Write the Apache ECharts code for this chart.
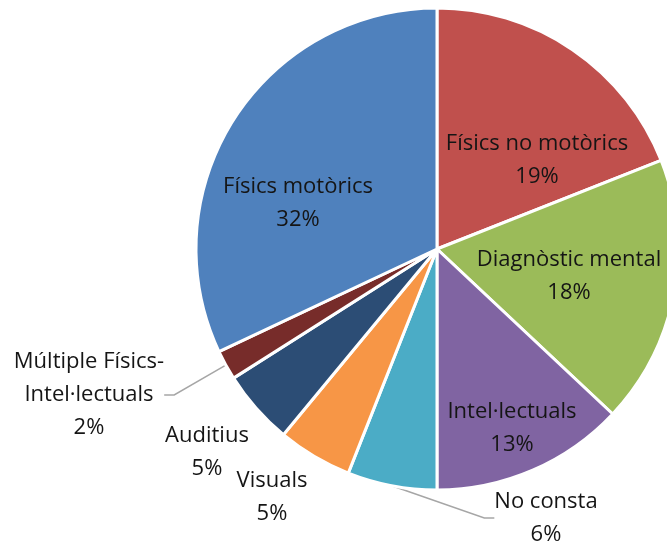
<!DOCTYPE html>
<html>
<head>
<meta charset="utf-8">
<script src="https://cdn.jsdelivr.net/npm/echarts@6/dist/echarts.min.js"></script>
<style>
  html, body { margin: 0; padding: 0; background: #fff; }
  #chart { width: 667px; height: 547px; }
</style>
</head>
<body>
<div id="chart"></div>
<script>
// categories, clockwise from the top
var categories = ['Físics no motòrics', 'Diagnòstic mental', 'Intel·lectuals', 'No consta',
  'Visuals', 'Auditius', 'Múltiple Físics-Intel·lectuals', 'Físics motòrics']
var percents = [19, 18, 13, 6, 5, 5, 2, 32]
var colors = ['#C0504D', '#9BBB59', '#8064A2', '#4BACC6', '#F79646', '#2C4D75', '#772C2A', '#4F81BD']

// label centres (px), placed like the original
var labelPos = [
  [537, 160], [569, 276], [512, 428], [546, 518],
  [272, 497], [207, 452], [89, 395], [298, 203]
]
var withLine = [false, false, false, true, false, false, true, false]

var chart = echarts.init(document.getElementById('chart'))

chart.setOption({
  animation: false,
  color: colors,
  series: [{
    type: 'pie',
    center: [437, 249],
    radius: 241,
    startAngle: 90,
    clockwise: true,
    avoidLabelOverlap: false,
    itemStyle: {
      borderColor: '#fff',
      borderWidth: 3
    },
    label: {
      show: true,
      position: 'outside',
      formatter: function (p) {
        return p.name.replace('-', '-\n') + '\n' + p.value + '%'
      },
      fontFamily: 'Open Sans',
      fontSize: 22,
      lineHeight: 33,
      color: '#151515',
      align: 'center'
    },
    labelLine: {
      show: true,
      length: 15,
      length2: 10,
      lineStyle: { color: '#A6A6A6', width: 1.5 }
    },
    labelLayout: function (p) {
      var pos = labelPos[p.dataIndex]
      return { x: pos[0], y: pos[1], align: 'center', verticalAlign: 'middle' }
    },
    emphasis: { disabled: true },
    data: categories.map(function (name, i) {
      return {
        name: name,
        value: percents[i],
        labelLine: { show: withLine[i] }
      }
    })
  }]
})
</script>
</body>
</html>
